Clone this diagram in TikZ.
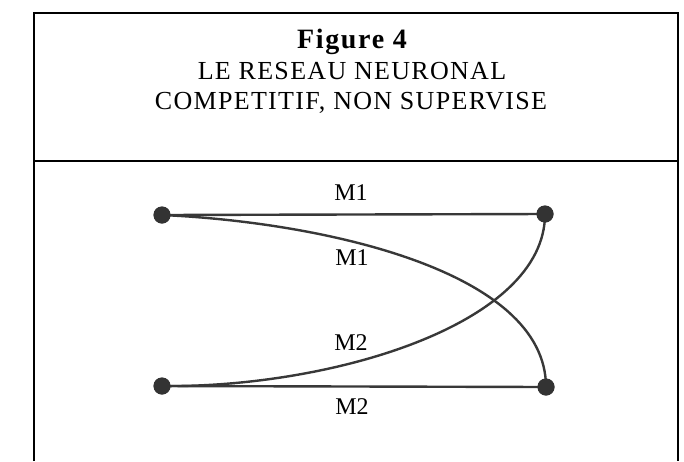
\documentclass[tikz,border=0pt]{standalone}
\usepackage{fontspec}
\setmainfont{Liberation Serif}
\begin{document}
\begin{tikzpicture}[x=1pt,y=-1pt,
  frameline/.style={line width=1.8pt,black},
  neuron/.style={circle,fill=black!80,inner sep=0pt,minimum size=17pt},
  link/.style={line width=2.4pt,black!78},
  lbl/.style={font=\fontsize{24}{26}\selectfont,inner sep=0pt,anchor=base},
  ttl/.style={inner sep=0pt,anchor=base}]
\useasboundingbox (0,0) rectangle (684,461);
% frame
\draw[frameline] (34,461) -- (34,13) -- (678,13) -- (678,461);
\draw[frameline] (34,161) -- (678,161);
% title
\node[ttl,font=\fontsize{28}{30}\selectfont\bfseries\addfontfeatures{LetterSpace=6}] (title) at (352,48) {Figure 4};
\node[ttl,font=\fontsize{26}{28}\selectfont\addfontfeatures{LetterSpace=5}] (sub1) at (352,79) {LE RESEAU NEURONAL};
\node[ttl,font=\fontsize{26}{28}\selectfont\addfontfeatures{LetterSpace=5}] (sub2) at (351,109) {COMPETITIF, NON SUPERVISE};
% neurons
\node[neuron] (a) at (162,215) {};
\node[neuron] (b) at (545,214) {};
\node[neuron] (c) at (162,386) {};
\node[neuron] (d) at (546,387) {};
% links
\draw[link] (a.center) -- (b.center);
\draw[link] (c.center) -- (d.center);
\draw[link] (a.center) .. controls (320,222) and (546,270) .. (d.center);
\draw[link] (c.center) .. controls (330,388) and (545,325) .. (b.center);
\node[neuron] at (a) {};
\node[neuron] at (b) {};
\node[neuron] at (c) {};
\node[neuron] at (d) {};
% labels
\node[lbl] (l1) at (351,200) {M1};
\node[lbl] (l2) at (352,265) {M1};
\node[lbl] (l3) at (351,350) {M2};
\node[lbl] (l4) at (352,414) {M2};
\end{tikzpicture}
\end{document}
